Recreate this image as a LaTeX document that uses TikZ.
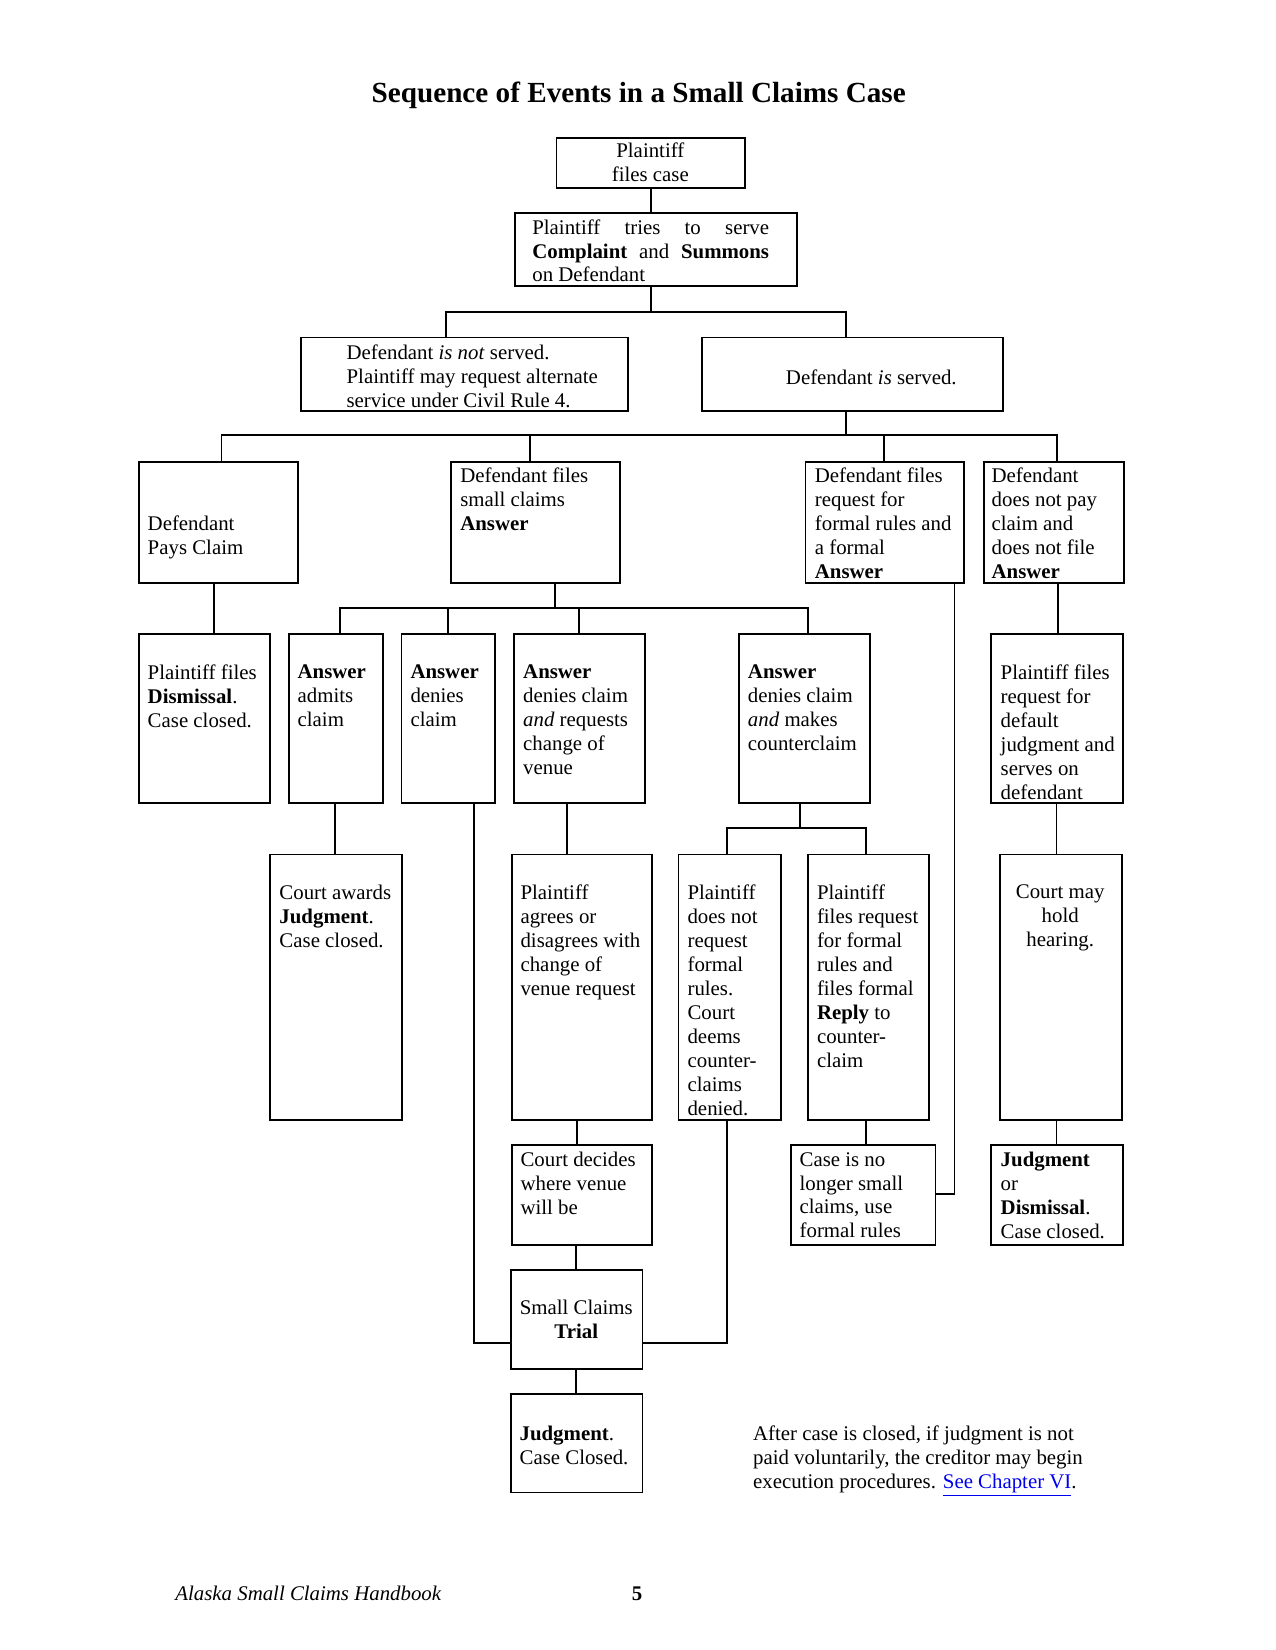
\documentclass[tikz,border=0pt]{standalone}
\usepackage{fontspec}
\setmainfont{Liberation Serif}
\usetikzlibrary{fit}
\newcommand\mystrut{\rule{0pt}{8pt}}
\definecolor{linkblue}{RGB}{0,0,238}
\tikzset{
  box/.style={draw, line width=0.9pt, inner sep=0pt, outer sep=0pt},
  conn/.style={line width=0.9pt},
  txt/.style={font=\fontsize{10}{11.5}\selectfont, inner sep=0pt, anchor=north west, align=left, yshift=-1.3pt, execute at begin node=\mystrut},
  ctxt/.style={txt, anchor=north, align=center},
}
\begin{document}
\begin{tikzpicture}[x=0.50495pt, y=-0.50495pt]
\useasboundingbox (0,0) rectangle (1212,1568);

% title
\node[font=\fontsize{14}{16}\selectfont\bfseries, inner sep=0pt, anchor=base] (title) at (607,97.5) {Sequence of Events in a Small Claims Case};

% boxes
\node[box, fit={(528.8,131) (708,178.7)}] (A) {};
\node[box, fit={(489.4,202.2) (757.1,272.2)}] (B) {};
\node[box, fit={(285.7,320.7) (597,390.7)}] (C) {};
\node[box, fit={(667,320.7) (953,390.7)}] (D) {};
\node[box, fit={(132,439) (283,554.3)}] (E) {};
\node[box, fit={(428.7,439) (589.5,554.3)}] (F) {};
\node[box, fit={(765.5,439) (916.3,554.3)}] (G) {};
\node[box, fit={(935,439) (1068,554.3)}] (H) {};
\node[box, fit={(132,602.7) (256.7,763.4)}] (J) {};
\node[box, fit={(274.5,602.7) (364,763.4)}] (K) {};
\node[box, fit={(381.5,602.7) (470.6,763.4)}] (L) {};
\node[box, fit={(488.4,602.7) (613,763.4)}] (M) {};
\node[box, fit={(702.5,602.7) (827,763.4)}] (N) {};
\node[box, fit={(942,602.7) (1067,763.4)}] (O) {};
\node[box, fit={(256.4,812) (381.8,1064.7)}] (Q) {};
\node[box, fit={(486.4,812) (619.5,1064.7)}] (R) {};
\node[box, fit={(644.8,812) (742,1064.7)}] (S) {};
\node[box, fit={(767.7,812) (883,1064.7)}] (T) {};
\node[box, fit={(950.2,812) (1066.5,1064.7)}] (U) {};
\node[box, fit={(486.4,1088.5) (619.5,1182.8)}] (V) {};
\node[box, fit={(752,1088.5) (889,1182.8)}] (W) {};
\node[box, fit={(942,1088.5) (1067.5,1182.8)}] (X) {};
\node[box, fit={(485.5,1207.2) (610.5,1301)}] (Y) {};
\node[box, fit={(485.5,1325) (610.5,1418.3)}] (Z) {};

% texts
\node[ctxt] (tA) at (618,133) {Plaintiff\\files case};
\node[txt] (tB) at (505.5,205.5) {\makebox[113.6pt][s]{Plaintiff tries to serve}\\\makebox[113.6pt][s]{\textbf{Complaint} and \textbf{Summons}}\\on Defendant};
\node[txt] (tC) at (329,324.6) {Defendant \textit{is not} served.\\Plaintiff may request alternate\\service under Civil Rule 4.};
\node[ctxt] (tD) at (828,347) {Defendant \textit{is} served.};
\node[txt] (tE) at (140,487.5) {Defendant\\Pays Claim};
\node[txt] (tF) at (437,442) {Defendant files\\small claims\\\textbf{Answer}};
\node[txt] (tG) at (774,442) {Defendant files\\request for\\formal rules and\\a formal\\\textbf{Answer}};
\node[txt] (tH) at (942,442) {Defendant\\does not pay\\claim and\\does not file\\\textbf{Answer}};
\node[txt] (tJ) at (140,629) {Plaintiff files\\\textbf{Dismissal}.\\Case closed.};
\node[txt] (tK) at (282.5,629) {\textbf{Answer}\\admits\\claim};
\node[txt] (tL) at (389.7,629) {\textbf{Answer}\\denies\\claim};
\node[txt] (tM) at (496.8,629) {\textbf{Answer}\\denies claim\\\textit{and} requests\\change of\\venue};
\node[txt] (tN) at (710.4,629) {\textbf{Answer}\\denies claim\\\textit{and} makes\\counterclaim};
\node[txt] (tO) at (950.6,629) {Plaintiff files\\request for\\default\\judgment and\\serves on\\defendant};
\node[txt] (tQ) at (265.2,838) {Court awards\\\textbf{Judgment}.\\Case closed.};
\node[txt] (tR) at (494.3,838) {Plaintiff\\agrees or\\disagrees with\\change of\\venue request};
\node[txt] (tS) at (653,838) {Plaintiff\\does not\\request\\formal\\rules.\\Court\\deems\\counter-\\claims\\denied.};
\node[txt] (tT) at (776,838) {Plaintiff\\files request\\for formal\\rules and\\files formal\\\textbf{Reply} to\\counter-\\claim};
\node[ctxt] (tU) at (1007.5,838) {Court may\\hold\\hearing.};
\node[txt] (tV) at (494.3,1092) {Court decides\\where venue\\will be};
\node[txt] (tW) at (759.5,1092) {Case is no\\longer small\\claims, use\\formal rules};
\node[txt] (tX) at (950.6,1092) {\textbf{Judgment}\\or\\\textbf{Dismissal}.\\Case closed.};
\node[ctxt] (tY) at (547.6,1232.4) {Small Claims\\\textbf{Trial}};
\node[txt] (tZ) at (493.4,1352) {\textbf{Judgment}.\\Case Closed.};
\node[txt] (note) at (715.3,1352) {After case is closed, if judgment is not\\paid voluntarily, the creditor may begin\\execution procedures. \textcolor{linkblue}{\underline{See Chapter VI}}.};

% footer
\node[font=\fontsize{10}{12}\selectfont\itshape, inner sep=0pt, anchor=base west] (foot) at (166.3,1521) {Alaska Small Claims Handbook};
\node[font=\fontsize{10}{12}\selectfont\bfseries, inner sep=0pt, anchor=base] (pagenum) at (605.5,1521) {5};

% connectors
\draw[conn] (A.south -| 618.3,0) -- (B.north -| 618.3,0);
\draw[conn] (B.south -| 618.3,0) -- (618.3,296.6);
\draw[conn] (C.north -| 424,0) -- (424,296.6) -- (804,296.6) -- (D.north -| 804,0);
\draw[conn] (D.south -| 804,0) -- (804,413);
\draw[conn] (E.north -| 210.5,0) -- (210.5,413) -- (1004.7,413) -- (H.north -| 1004.7,0);
\draw[conn] (F.north -| 504,0) -- (504,413);
\draw[conn] (G.north -| 840,0) -- (840,413);
\draw[conn] (E.south -| 203,0) -- (J.north -| 203,0);
\draw[conn] (F.south -| 527,0) -- (527,578);
\draw[conn] (K.north -| 323,0) -- (323,578) -- (768,578) -- (N.north -| 768,0);
\draw[conn] (L.north -| 426,0) -- (426,578);
\draw[conn] (M.north -| 550,0) -- (550,578);
\draw[conn] (G.south -| 907,0) -- (907,1135) -- (W.east |- 0,1135);
\draw[conn] (H.south -| 1005,0) -- (O.north -| 1005,0);
\draw[conn] (K.south -| 318,0) -- (Q.north -| 318,0);
\draw[conn] (L.south -| 450.5,0) -- (450.5,1276) -- (Y.west |- 0,1276);
\draw[conn] (M.south -| 539,0) -- (R.north -| 539,0);
\draw[conn] (N.south -| 760,0) -- (760,787);
\draw[conn] (S.north -| 690.5,0) -- (690.5,787) -- (823,787) -- (T.north -| 823,0);
\draw[conn] (O.south -| 1004,0) -- (U.north -| 1004,0);
\draw[conn] (R.south -| 548,0) -- (V.north -| 548,0);
\draw[conn] (S.south -| 690.5,0) -- (690.5,1276) -- (Y.east |- 0,1276);
\draw[conn] (T.south -| 823,0) -- (W.north -| 823,0);
\draw[conn] (U.south -| 1004,0) -- (X.north -| 1004,0);
\draw[conn] (V.south -| 547.5,0) -- (Y.north -| 547.5,0);
\draw[conn] (Y.south -| 547,0) -- (Z.north -| 547,0);
\end{tikzpicture}
\end{document}
